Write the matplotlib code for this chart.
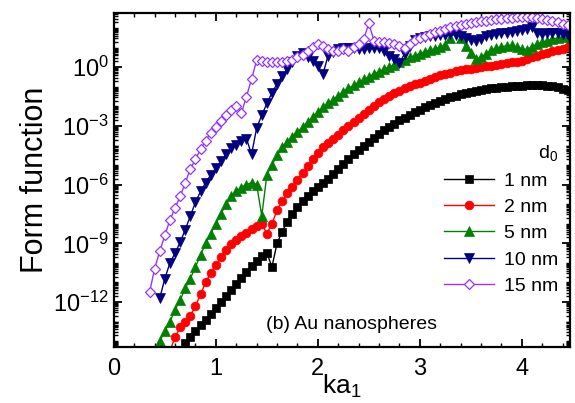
import numpy as np
import matplotlib
matplotlib.use('Agg')
from matplotlib import pyplot as plt
from matplotlib.ticker import LogLocator, MultipleLocator, NullFormatter

plt.rcParams['font.family'] = ['Liberation Sans', 'DejaVu Sans']
plt.rcParams['mathtext.fontset'] = 'custom'
plt.rcParams['mathtext.rm'] = 'Liberation Sans'
plt.rcParams['mathtext.it'] = 'Liberation Sans'

nan = np.nan

# ka_1 sampling grid
ka = [0.35, 0.40, 0.45, 0.50, 0.55, 0.60, 0.65, 0.70, 0.75, 0.80,
      0.85, 0.90, 0.95, 1.00, 1.05, 1.10, 1.15, 1.20, 1.25, 1.30,
      1.35, 1.40, 1.45, 1.50, 1.55, 1.60, 1.65, 1.70, 1.75, 1.80,
      1.85, 1.90, 1.95, 2.00, 2.05, 2.10, 2.15, 2.20, 2.25, 2.30,
      2.35, 2.40, 2.45, 2.50, 2.55, 2.60, 2.65, 2.70, 2.75, 2.80,
      2.85, 2.90, 2.95, 3.00, 3.05, 3.10, 3.15, 3.20, 3.25, 3.30,
      3.35, 3.40, 3.45, 3.50, 3.55, 3.60, 3.65, 3.70, 3.75, 3.80,
      3.85, 3.90, 3.95, 4.00, 4.05, 4.10, 4.15, 4.20, 4.25, 4.30,
      4.35, 4.40, 4.45]

# log10 of form function
log_f_1nm = [nan, nan, nan, nan, nan, nan, -14.6, -14.1, -13.8, -13.5,
             -13.2, -12.9, -12.6, -12.3, -12.0, -11.7, -11.4, -11.1, -10.75, -10.45,
             -10.15, -9.9, -9.65, -9.5, -10.2, -9.0, -8.4, -7.9, -7.5, -7.15,
             -6.85, -6.6, -6.35, -6.1, -5.9, -5.7, -5.45, -5.2, -4.95, -4.7,
             -4.45, -4.22, -4.0, -3.8, -3.6, -3.4, -3.22, -3.05, -2.88, -2.72,
             -2.57, -2.43, -2.3, -2.17, -2.05, -1.94, -1.83, -1.72, -1.62, -1.54,
             -1.46, -1.39, -1.32, -1.26, -1.2, -1.15, -1.11, -1.07, -1.04, -1.01,
             -0.99, -0.97, -0.95, -0.94, -0.93, -0.92, -0.92, -0.93, -0.95, -0.98,
             -1.03, -1.1, -1.18]
log_f_2nm = [nan, nan, nan, nan, -14.5, -13.8, -13.3, -13.0, -12.7, -12.2,
             -11.6, -11.0, -10.5, -10.1, -9.7, -9.35, -9.05, -8.85, -8.65, -8.45,
             -8.25, -8.1, -8.0, -8.5, -8.0, -7.3, -6.85, -6.45, -6.1, -5.75,
             -5.4, -5.05, -4.7, -4.4, -4.1, -3.85, -3.65, -3.45, -3.22, -3.0,
             -2.78, -2.57, -2.37, -2.17, -1.98, -1.8, -1.63, -1.48, -1.34, -1.2,
             -1.08, -0.97, -0.87, -0.78, -0.69, -0.6, -0.51, -0.42, -0.34, -0.27,
             -0.21, -0.16, -0.11, -0.07, -0.03, 0.01, 0.05, 0.09, 0.13, 0.17,
             0.21, 0.25, 0.29, 0.34, 0.41, 0.5, 0.58, 0.66, 0.74, 0.81,
             0.88, 0.95, 1.02]
log_f_5nm = [nan, -14.6, -14.0, -13.5, -13.0, -12.4, -11.9, -11.3, -10.8, -10.2,
             -9.6, -9.0, -8.5, -8.0, -7.5, -7.0, -6.6, -6.35, -6.15, -6.0,
             -5.9, -6.0, -7.6, -5.5, -5.0, -4.5, -4.1, -3.8, -3.55, -3.3,
             -3.05, -2.8, -2.55, -2.3, -2.05, -1.85, -1.65, -1.45, -1.25, -1.08,
             -0.92, -0.77, -0.62, -0.48, -0.35, -0.22, -0.1, 0.02, 0.14, 0.27,
             0.38, 0.5, 0.6, 0.7, 0.8, 0.88, 0.95, 1.02, 1.15, 1.5,
             2.05, 1.5, 1.1, 0.75, 0.4, 0.5, 0.7, 0.88, 0.98, 1.05,
             1.1, 1.12, 1.05, 0.95, 0.9, 1.05, 1.18, 1.28, 1.36, 1.44,
             1.5, 1.56, 1.62]
log_f_10nm = [nan, nan, -11.8, -10.8, -10.0, -9.5, -8.95, -8.3, -7.6, -6.9,
              -6.35, -5.9, -5.5, -5.15, -4.8, -4.45, -4.15, -3.95, -3.75, -3.65,
              -4.45, -3.1, -2.45, -1.85, -1.3, -0.85, -0.45, -0.1, 0.25, 0.6,
              0.72, 0.5, 0.3, 0.05, -0.35, 0.6, 0.8, 0.95, 1.0, 1.0,
              0.98, 0.95, 0.95, 0.98, 1.0, 0.98, 0.85, 0.6, 0.4, 0.2,
              0.7, 1.1, 1.4, 1.5, 1.55, 1.6, 1.62, 1.63, 1.65, 1.68,
              1.65, 1.6, 1.5, 1.38, 1.35, 1.45, 1.58, 1.65, 1.7, 1.73,
              1.76, 1.8, 1.85, 1.9, 1.98, 2.05, 1.75, 1.72, 1.75, 1.76,
              1.75, 1.7, 1.65]
log_f_15nm = [-11.5, -10.3, -9.4, -8.6, -7.8, -7.2, -6.6, -5.9, -5.2, -4.7,
              -4.2, -3.75, -3.35, -3.05, -2.75, -2.45, -2.2, -2.0, -2.35, -1.5,
              -0.6, 0.35, 0.3, 0.25, 0.25, 0.25, 0.25, 0.3, 0.35, 0.5,
              0.65, 0.85, 1.05, 1.2, 1.1, 0.95, 0.85, 0.85, 0.95, 0.85,
              1.05, 1.2, 1.45, 2.25, 1.35, 1.3, 1.3, 1.25, 1.2, 1.1,
              1.0, 1.2, 1.4, 1.5, 1.6, 1.7, 1.8, 1.88, 1.95, 2.05,
              2.12, 2.18, 2.22, 2.26, 2.3, 2.35, 2.38, 2.42, 2.45, 2.48,
              2.5, 2.52, 2.55, 2.56, 2.57, 2.56, 2.53, 2.48, 2.42, 2.36,
              2.3, 2.22, 2.15]

labels = ['1 nm', '2 nm', '5 nm', '10 nm', '15 nm']
series = [log_f_1nm, log_f_2nm, log_f_5nm, log_f_10nm, log_f_15nm]
colors = ['black', '#ff0000', '#008000', '#000080', '#9933ff']
markers = ['s', 'o', '^', 'v', 'D']
sizes = [5.8, 6.3, 7.8, 7.8, 5.2]

fig = plt.figure(figsize=(5.75, 4.03), dpi=100)
ax = fig.add_axes([0.198, 0.139, 0.793, 0.829])

for lf, lab, c, m, ms in zip(series, labels, colors, markers, sizes):
    y = 10.0 ** np.array(lf)
    if m == 'D':
        ax.plot(ka, y, color=c, marker=m, ms=ms, mfc='white', mec=c, mew=0.9,
                lw=1.0, label=lab)
    else:
        ax.plot(ka, y, color=c, marker=m, ms=ms, mec=c, mew=0.5, lw=1.0, label=lab)

ax.set_yscale('log')
ax.set_xlim(0, 4.47)
ax.set_ylim(10 ** -14.3, 10 ** 2.78)
ax.set_xticks([0, 1, 2, 3, 4])
ax.xaxis.set_minor_locator(MultipleLocator(0.2))
ax.set_yticks([1e-12, 1e-9, 1e-6, 1e-3, 1e0])
ax.set_yticklabels(['10$^{-12}$', '10$^{-9}$', '10$^{-6}$', '10$^{-3}$', '10$^{0}$'])
ax.yaxis.set_minor_locator(LogLocator(base=10, subs=np.arange(1, 10), numticks=100))
ax.yaxis.set_minor_formatter(NullFormatter())
ax.tick_params(which='both', direction='in', top=True, right=True)
ax.tick_params(which='major', length=6, width=1.3, labelsize=17)
ax.tick_params(axis='x', which='major', pad=8)
ax.tick_params(which='minor', length=3, width=1.0)
for sp in ax.spines.values():
    sp.set_linewidth(1.6)

ax.set_xlabel('ka$_1$', fontsize=19, labelpad=-5)
ax.set_ylabel('Form function', fontsize=22, labelpad=2)

ax.text(0.522, 0.066, '(b) Au nanospheres', transform=ax.transAxes,
        ha='center', va='center', fontsize=14)

leg = ax.legend(loc='upper right', bbox_to_anchor=(1.0, 0.645), frameon=False,
                title='d$_0$', fontsize=14, title_fontsize=14, numpoints=1,
                handlelength=2.6, labelspacing=0.45, handletextpad=0.5,
                borderaxespad=0.2)
leg._legend_box.align = 'right'

fig.savefig('out.png', dpi=100)
